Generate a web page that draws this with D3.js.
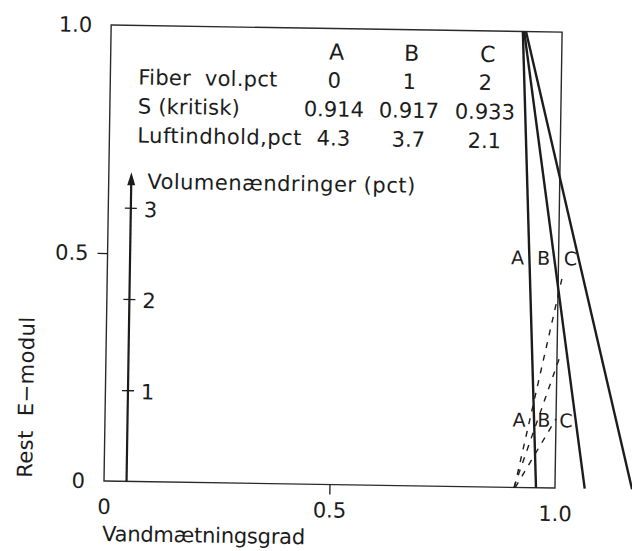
<!DOCTYPE html>
<html>
<head>
<meta charset="utf-8">
<script src="https://cdn.jsdelivr.net/npm/d3@7"></script>
<style>
  html, body { margin: 0; padding: 0; background: #fff; }
  svg { display: block; }
  text { font-family: "DejaVu Sans", "Noto Sans", sans-serif; fill: #1c1c1c; white-space: pre; }
</style>
</head>
<body>
<svg id="chart" width="632" height="551"></svg>
<script>
// Mixes and their properties (table in the plot)
const mixes = ["A", "B", "C"];
const fiberPct = ["0", "1", "2"];
const sCritical = ["0.914", "0.917", "0.933"];
const airPct = ["4.3", "3.7", "2.1"];

// Residual E-modulus: straight drop from 1.0 to 0 over the saturation range
const modulusTopS = [0.913, 0.916, 0.920];
const modulusZeroS = [0.958, 1.066, 1.171];

// Volume change (pct) against saturation, dashed
const swellStartS = [0.910, 0.909, 0.912];
const swellEndS = [1.010, 1.007, 1.000];
const swellEndPct = [2.34, 1.45, 0.76];

// Tick values
const xTicks = [0, 0.5, 1.0];
const yTicks = [0, 0.5, 1.0];
const volTicks = [1, 2, 3];
const volArrowTop = 3.39;
const volAxisS = 0.05;

const svg = d3.select("#chart");
const g = svg.append("g").attr("transform", "rotate(0.9,104,481)");

const x = d3.scaleLinear().domain([0, 1]).range([104, 555]);
const y = d3.scaleLinear().domain([0, 1]).range([481, 25]);
const yV = d3.scaleLinear().domain([0, 5]).range([y(0), y(1)]);

const ink = "#1c1c1c";
const font = '"DejaVu Sans", sans-serif';

// Frame
g.append("rect")
  .attr("x", x(0)).attr("y", y(1))
  .attr("width", x(1) - x(0)).attr("height", y(0) - y(1))
  .attr("fill", "none").attr("stroke", "#2a2a2a").attr("stroke-width", 1.4);

// Axes
const fmt = d => d === 0 ? "0" : d3.format(".1f")(d);
const yAxis = g.append("g").attr("transform", `translate(${x(0)},0)`)
  .call(d3.axisLeft(y).tickValues(yTicks).tickSize(10).tickPadding(9).tickFormat(fmt));
const xAxis = g.append("g").attr("transform", `translate(0,${y(0)})`)
  .call(d3.axisBottom(x).tickValues(xTicks).tickSize(10).tickPadding(8).tickFormat(fmt));
[yAxis, xAxis].forEach(a => {
  a.select(".domain").remove();
  a.selectAll(".tick line").attr("stroke", ink).attr("stroke-width", 1.3)
    .attr("opacity", d => d === 0.5 ? 1 : 0);
  a.selectAll(".tick text").attr("font-size", 21).attr("fill", ink).style("font-family", font);
});

// Axis titles
g.append("text").attr("x", x(0) - 1).attr("y", 541)
  .attr("font-size", 21).attr("textLength", 203).attr("lengthAdjust", "spacing")
  .text("Vandmætningsgrad");
g.append("text").attr("transform", "translate(32,479) rotate(-90)")
  .attr("font-size", 21).attr("textLength", 161).attr("lengthAdjust", "spacing")
  .text("Rest  E\u2212modul");

// Inner volume-change axis with arrow
const vx = x(volAxisS);
const vAxis = g.append("g").attr("transform", `translate(${vx},0)`)
  .call(d3.axisRight(yV).tickValues(volTicks).tickSize(6).tickPadding(7).tickFormat(d3.format("d")));
vAxis.select(".domain").remove();
vAxis.selectAll(".tick line").attr("x1", -6).attr("x2", 6).attr("stroke", ink).attr("stroke-width", 1.3);
vAxis.selectAll(".tick text").attr("font-size", 21).attr("fill", ink).style("font-family", font)
  .attr("dy", "0.4em");
g.append("line").attr("x1", vx).attr("x2", vx)
  .attr("y1", yV(0)).attr("y2", yV(volArrowTop) + 8)
  .attr("stroke", ink).attr("stroke-width", 2.2);
g.append("path")
  .attr("d", `M${vx},${yV(volArrowTop)} L${vx - 4},${yV(volArrowTop) + 13} L${vx + 4},${yV(volArrowTop) + 13} Z`)
  .attr("fill", ink);
g.append("text").attr("x", vx + 16).attr("y", 188)
  .attr("font-size", 21).attr("textLength", 268).attr("lengthAdjust", "spacing")
  .text("Volumenændringer (pct)");

// Table of mixes
const colX = [328, 403, 479];
const rows = [
  { label: "Fiber  vol.pct", vals: fiberPct, y: 84, w: 139 },
  { label: "S (kritisk)", vals: sCritical, y: 113, w: 102 },
  { label: "Luftindhold,pct", vals: airPct, y: 142, w: 164 }
];
g.selectAll(".hdr").data(mixes).join("text")
  .attr("x", (d, i) => colX[i] + 2).attr("y", 56)
  .attr("text-anchor", "middle").attr("font-size", 22).text(d => d);
rows.forEach(r => {
  g.append("text").attr("x", 132).attr("y", r.y).attr("font-size", 21)
    .attr("textLength", r.w).attr("lengthAdjust", "spacing").text(r.label);
  g.selectAll(null).data(r.vals).join("text")
    .attr("x", (d, i) => colX[i]).attr("y", r.y)
    .attr("text-anchor", "middle").attr("font-size", 21).text(d => d);
});

// Residual modulus lines
const line = d3.line().x(d => x(d[0])).y(d => y(d[1]));
mixes.forEach((m, i) => {
  g.append("path")
    .attr("d", line([[modulusTopS[i], 1], [modulusZeroS[i], 0]]))
    .attr("fill", "none").attr("stroke", ink).attr("stroke-width", 2.4);
});

// Volume change lines (dashed)
const vline = d3.line().x(d => x(d[0])).y(d => yV(d[1]));
mixes.forEach((m, i) => {
  g.append("path")
    .attr("d", vline([[swellStartS[i], 0], [swellEndS[i], swellEndPct[i]]]))
    .attr("fill", "none").attr("stroke", ink).attr("stroke-width", 1.4)
    .attr("stroke-dasharray", "6,7");
});

// Curve labels
const upperLabelX = [514, 540, 567];
const lowerLabelX = [518, 543, 565];
g.selectAll(".ul").data(mixes).join("text")
  .attr("x", (d, i) => upperLabelX[i]).attr("y", 258)
  .attr("text-anchor", "middle").attr("font-size", 19).text(d => d);
g.selectAll(".ll").data(mixes).join("text")
  .attr("x", (d, i) => lowerLabelX[i]).attr("y", 420)
  .attr("text-anchor", "middle").attr("font-size", 19).text(d => d);
</script>
</body>
</html>
